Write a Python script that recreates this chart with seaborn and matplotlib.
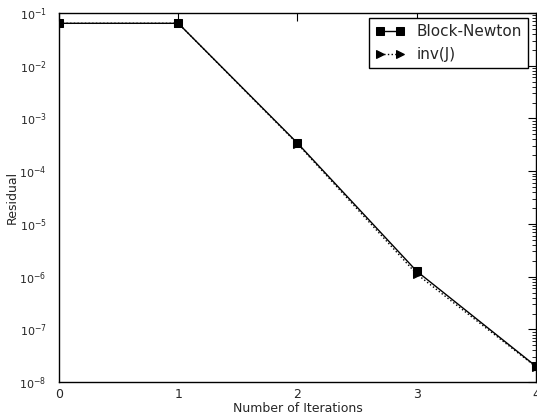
import numpy as np
import pandas as pd
import matplotlib
matplotlib.use("Agg")
import matplotlib.pyplot as plt
import seaborn as sns

iterations = [0, 1, 2, 3, 4]
block_newton = [0.0637, 0.0637, 3.4e-4, 1.27e-6, 2.0e-8]
inv_j = [0.0637, 0.0637, 3.3e-4, 1.12e-6, 1.95e-8]

sns.set_style("white")
plt.rcParams['font.family'] = ['DejaVu Sans']

fig = plt.figure(figsize=(5.37, 4.19), dpi=100)
ax = fig.add_axes([0.110, 0.088, 0.888, 0.881])

df = pd.DataFrame({'it': iterations, 'bn': block_newton, 'inv': inv_j})

sns.lineplot(data=df, x='it', y='bn', ax=ax, color='k', marker='s',
             markersize=6, linewidth=1, markeredgecolor='k',
             label='Block-Newton', zorder=3)
sns.lineplot(data=df, x='it', y='inv', ax=ax, color='k', marker='>',
             markersize=6, linewidth=1, linestyle=':', markeredgecolor='k',
             label='inv(J)', zorder=2)

ax.set_yscale('log')
ax.set_xlim(0, 4)
ax.set_ylim(1e-8, 1e-1)
ax.set_xticks([0, 1, 2, 3, 4])
ax.set_xlabel('Number of Iterations', fontsize=9, labelpad=1)
ax.set_ylabel('Residual', fontsize=9, labelpad=0)
ax.tick_params(which='both', direction='in', top=True, right=True, color='k')
ax.tick_params(which='major', length=6)
ax.tick_params(which='minor', length=3)
ax.tick_params(axis='y', which='major', pad=9, labelsize=8)
ax.tick_params(axis='x', which='major', pad=4, labelsize=9)
for s in ax.spines.values():
    s.set_color('k')
    s.set_linewidth(1)

leg = ax.legend(loc='upper right', fontsize=11, numpoints=2,
                fancybox=False, framealpha=1, borderpad=0.4,
                handlelength=1.9, labelspacing=0.5, borderaxespad=0,
                bbox_to_anchor=(0.983, 0.986))
leg.get_frame().set_edgecolor('k')
leg.get_frame().set_linewidth(1)

fig.savefig('out.png', dpi=100)
